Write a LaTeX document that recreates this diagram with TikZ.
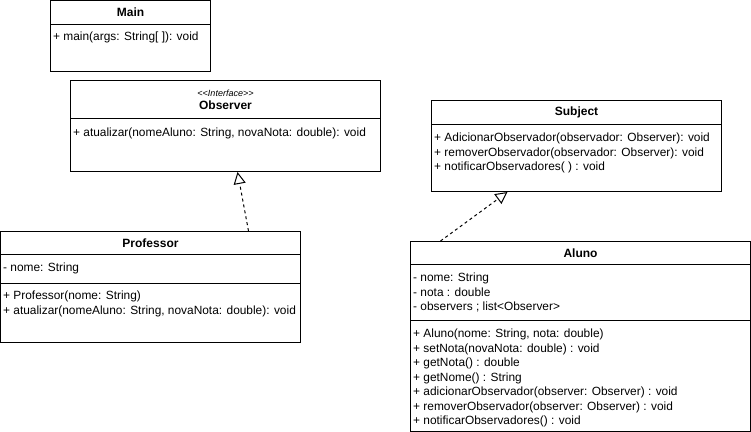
\documentclass[tikz,border=0pt]{standalone}
\usepackage{fontspec}
\setmainfont{Liberation Sans}
\usepackage{xcolor}
\usetikzlibrary{positioning,arrows.meta}

\tikzset{
  box/.style={draw, line width=1pt, inner sep=0pt, anchor=north west},
  hdr/.style={box, minimum height=24pt, align=center, font=\fontsize{12}{13}\selectfont\bfseries},
  lines/.style={anchor=north west, inner sep=0pt, align=left, font=\fontsize{11.9}{14.5}\selectfont},
  realize/.style={line width=1pt, dash pattern=on 3pt off 3pt, -{Triangle[open, length=12pt, width=12pt]}}
}

\begin{document}
\begin{tikzpicture}[x=1pt, y=-1pt]
\useasboundingbox (0,0) rectangle (751,431);
% Main
\node[hdr, minimum width=160pt] (mainhdr) at (50,0) {Main};
\node[box, minimum width=160pt, minimum height=47pt, below=-1pt of mainhdr] (mainops) {};
\node[lines] (maintxt) at ([shift={(3,8)}]mainops.north west) {+ main(args: String[ ]): void};
% Observer
\node[hdr, minimum width=310pt, minimum height=38pt] (obshdr) at (70,80)
  {{\fontsize{9}{12}\selectfont\mdseries\itshape <\kern0pt<Interface>\kern0pt>}\\Observer};
\node[box, minimum width=310pt, minimum height=53pt, below=-1pt of obshdr] (obsops) {};
\node[lines] (obstxt) at ([shift={(3,10)}]obsops.north west) {+ atualizar(nomeAluno: String, novaNota: double): void};
% Subject
\node[hdr, minimum width=290pt] (subjhdr) at (431,100) {Subject};
\node[box, minimum width=290pt, minimum height=67pt, below=-1pt of subjhdr] (subjops) {};
\node[lines] (subjtxt) at ([shift={(3,9)}]subjops.north west) {+ AdicionarObservador(observador: Observer): void\\
  + removerObservador(observador: Observer): void\\
  + notificarObservadores( ) : void};
% Professor
\node[hdr, minimum width=300pt, minimum height=23pt] (profhdr) at (0,231) {Professor};
\node[box, minimum width=300pt, minimum height=29pt, below=-1pt of profhdr] (profattr) {};
\node[box, minimum width=300pt, minimum height=59pt, below=-1pt of profattr] (profops) {};
\node[lines] (profattrtxt) at ([shift={(3,9)}]profattr.north west) {- nome: String};
\node[lines] (profopstxt) at ([shift={(3,8)}]profops.north west) {+ Professor(nome: String)\\
  + atualizar(nomeAluno: String, novaNota: double): void};
% Aluno
\node[hdr, minimum width=340pt, minimum height=23pt] (alunohdr) at (410,241) {Aluno};
\node[box, minimum width=340pt, minimum height=56pt, below=-1pt of alunohdr] (alunoattr) {};
\node[box, minimum width=340pt, minimum height=111pt, below=-1pt of alunoattr] (alunoops) {};
\node[lines] (alunoattrtxt) at ([shift={(3,9)}]alunoattr.north west) {- nome: String\\
  - nota : double\\
  - observers ; list<Observer>};
\node[lines] (alunoopstxt) at ([shift={(3,9)}]alunoops.north west) {+ Aluno(nome: String, nota: double)\\
  + setNota(novaNota: double) : void\\
  + getNota() : double\\
  + getNome() : String\\
  + adicionarObservador(observer: Observer) : void\\
  + removerObservador(observer: Observer) : void\\
  + notificarObservadores() : void};
% realizations
\draw[realize] ([xshift=98pt]profhdr.north) -- ([xshift=12pt]obsops.south);
\draw[realize] ([xshift=-140pt]alunohdr.north) -- ([xshift=-69pt]subjops.south);
\end{tikzpicture}
\end{document}
